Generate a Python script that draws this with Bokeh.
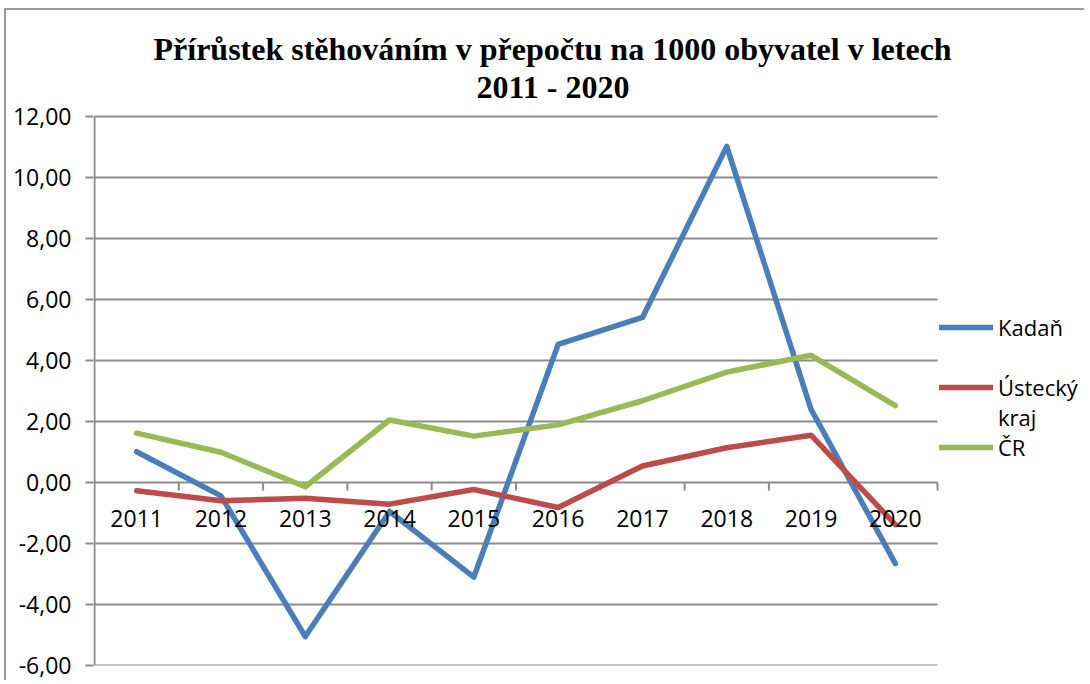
from bokeh.plotting import figure
from bokeh.models import (Legend, LegendItem, Range1d, FixedTicker, Title,
                          ColumnDataSource)
from bokeh.core.properties import value
from bokeh.embed import file_html
from bokeh.resources import INLINE
import math

# ---- data ----
years = ["2011", "2012", "2013", "2014", "2015", "2016", "2017", "2018", "2019", "2020"]
kadan = [1.01, -0.44, -5.05, -0.95, -3.10, 4.53, 5.41, 11.02, 2.40, -2.66]
ustecky = [-0.27, -0.60, -0.52, -0.71, -0.23, -0.82, 0.54, 1.14, 1.55, -1.38]
cr = [1.62, 0.99, -0.14, 2.05, 1.52, 1.89, 2.68, 3.62, 4.17, 2.52]
ytick_vals = [-6, -4, -2, 0, 2, 4, 6, 8, 10, 12]
ytick_labels = ["-6,00", "-4,00", "-2,00", "0,00", "2,00", "4,00", "6,00", "8,00", "10,00", "12,00"]
series_names = ["Kadaň", "Ústecký", "ČR"]
title_line1 = "Přírůstek stěhováním v přepočtu na 1000 obyvatel v letech"
title_line2 = "2011 - 2020"

BLUE = "#4A7EBB"
RED = "#BE4B48"
GREEN = "#98B954"
GRID = "#8C8C8C"
FONT = "Open Sans"

n = len(years)
xs = [i + 0.5 for i in range(n)]

# layout (pixels)
PLOT_W = 843            # width of the category area
FRAME_W = 993           # frame incl. legend area and 1px left pad
PX_PER_X = PLOT_W / n
PX_PER_Y = 549 / (ytick_vals[-1] - ytick_vals[0])
LEFT_PAD_PX = 1
TOP_PAD_PX = 12
x_start = -LEFT_PAD_PX / PX_PER_X
x_end = x_start + FRAME_W / PX_PER_X
y_end = ytick_vals[-1] + TOP_PAD_PX / PX_PER_Y

p = figure(width=1080, height=672, output_backend="svg", toolbar_location=None,
           x_range=Range1d(x_start, x_end), y_range=Range1d(ytick_vals[0], y_end),
           x_axis_location=None, title=None,
           min_border_left=87, min_border_top=94, min_border_bottom=17,
           min_border_right=0)
p.styles = {"margin-left": "4px", "margin-top": "8px",
            "border-top": "2px solid #9a9a9a", "border-left": "2px solid #9a9a9a"}
p.outline_line_color = None
p.background_fill_color = "white"
p.border_fill_color = "white"

# title: two lines, closest line added first
p.add_layout(Title(text=title_line2, align="left", offset=383,
                   text_font="Liberation Serif", text_font_size="32px",
                   text_font_style="bold", text_color="black",
                   standoff=0), "above")
p.add_layout(Title(text=title_line1, align="left", offset=60,
                   text_font="Liberation Serif", text_font_size="32px",
                   text_font_style="bold", text_color="black",
                   standoff=0), "above")

# y axis (line drawn separately so it stops at the top gridline)
yax = p.yaxis[0]
yax.ticker = FixedTicker(ticks=ytick_vals)
yax.major_label_overrides = {v: s for v, s in zip(ytick_vals, ytick_labels)}
yax.axis_line_color = None
yax.major_tick_line_color = GRID
yax.major_tick_line_width = 2
yax.major_tick_in = 0
yax.major_tick_out = 8
yax.minor_tick_line_color = None
yax.major_label_text_font = FONT
yax.major_label_text_font_size = "23px"
yax.major_label_text_color = "black"
yax.major_label_standoff = 14

p.xgrid.visible = False
p.ygrid.visible = False
# horizontal gridlines across the plot area only
p.segment(x0=[0] * len(ytick_vals), y0=ytick_vals, x1=[n] * len(ytick_vals),
          y1=ytick_vals, line_color=GRID, line_width=2)
# vertical axis line
p.segment(x0=[0], y0=[ytick_vals[0]], x1=[0], y1=[ytick_vals[-1]],
          line_color=GRID, line_width=2)

# x-axis ticks along the zero line
p.ray(x=list(range(1, n + 1)), y=[0] * n, length=8, length_units="screen",
      angle=-math.pi / 2, line_color=GRID, line_width=2)

src = ColumnDataSource(data=dict(x=xs, kadan=kadan, ustecky=ustecky, cr=cr))
r1 = p.line("x", "kadan", source=src, line_color=BLUE, line_width=5.5,
            line_join="round", line_cap="round")
r2 = p.line("x", "ustecky", source=src, line_color=RED, line_width=5.5,
            line_join="round", line_cap="round")
r3 = p.line("x", "cr", source=src, line_color=GREEN, line_width=5.5,
            line_join="round", line_cap="round")

# category labels on the zero line
p.text(x=xs, y=[0] * n, text=years, text_align="center", text_baseline="middle",
       y_offset=36, text_font=value(FONT), text_font_size="23px", text_color="black")

empty = ColumnDataSource(data=dict(x=[], y=[]))
d1 = p.line("x", "y", source=empty, line_alpha=0)
d2 = p.line("x", "y", source=empty, line_alpha=0)

legend = Legend(items=[
    LegendItem(label=series_names[0], renderers=[r1]),
    LegendItem(label=" ", renderers=[d1]),
    LegendItem(label=series_names[1], renderers=[r2]),
    LegendItem(label="kraj", renderers=[d2]),
    LegendItem(label=series_names[2], renderers=[r3]),
], location=(846, 203), label_text_font=FONT, label_text_font_size="22px",
    label_text_color="black",
    label_height=30, glyph_height=30, glyph_width=54, spacing=0,
    padding=2, margin=0, border_line_color=None, background_fill_alpha=0,
    label_standoff=5)
p.add_layout(legend)

open("out.html", "w").write(file_html(p, INLINE))
